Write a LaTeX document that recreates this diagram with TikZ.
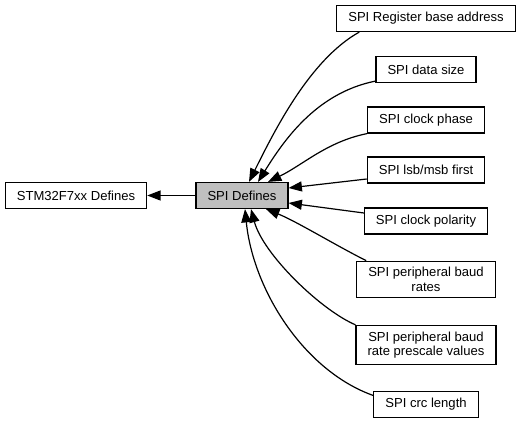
\documentclass[tikz,border=0pt]{standalone}
\usepackage{fontspec}
\setmainfont{Liberation Sans}
\usetikzlibrary{positioning, calc, arrows.meta}
\definecolor{grey75}{RGB}{191,191,191}

\begin{document}
\begin{tikzpicture}[
    x=0.75pt, y=-0.75pt,
    grpblock/.style = {rectangle, draw=black, line width=0.9pt, fill=white,
                       font=\fontsize{9.8}{11}\selectfont, align=center,
                       inner xsep=8.6pt, inner ysep=4.6pt, minimum height=19.5pt},
    curblock/.style = {grpblock, fill=grey75},
    conn/.style     = {line width=0.9pt, draw=black,
                       -{Triangle[length=10pt, width=7.5pt]}},
]

\useasboundingbox (0,0) rectangle (521,423);

%% ============================================================
%% COORDINATES
%% ============================================================
\def\xTop{76}
\def\xCur{242}
\def\xSub{426}

\def\yMain{195.5}
\def\yReg{18.5}
\def\yData{69.5}
\def\yPhase{120}
\def\yLsb{170}
\def\yPol{221}
\def\yBaud{279.5}
\def\yPresc{345}
\def\yCrc{404.5}

%% ============================================================
%% NODES
%% ============================================================
\node[grpblock] (stm)   at (\xTop, \yMain)  {STM32F7xx Defines};
\node[curblock] (spi)   at (\xCur, \yMain)  {SPI Defines};

\node[grpblock] (reg)   at (\xSub, \yReg)   {SPI Register base address};
\node[grpblock] (data)  at (\xSub, \yData)  {SPI data size};
\node[grpblock] (phase) at (\xSub, \yPhase) {SPI clock phase};
\node[grpblock] (lsb)   at (\xSub, \yLsb)   {SPI lsb/msb first};
\node[grpblock] (pol)   at (\xSub, \yPol)   {SPI clock polarity};
\node[grpblock] (baud)  at (\xSub, \yBaud)  {SPI peripheral baud\\rates};
\node[grpblock] (presc) at (\xSub, \yPresc) {SPI peripheral baud\\ rate prescale values};
\node[grpblock] (crc)   at (\xSub, \yCrc)   {SPI crc length};

%% ============================================================
%% CONNECTIONS
%% ============================================================
\draw[conn] (spi) -- (stm);

\draw[conn] ($(reg.south west)+(23,0)$)
    .. controls +(-50,28) and +(25,-50) .. ($(spi.north)+(7,0)$);
\draw[conn] ($(data.south west)+(0,-2)$)
    .. controls +(-60,12) and +(25,-40) .. ($(spi.north)+(16,0)$);
\draw[conn] (phase.south west)
    .. controls +(-40,8) and +(35,-17) .. ($(spi.north)+(26,0)$);
\draw[conn] ($(lsb.west)+(0,9)$) -- ($(spi.east)+(0,-7.5)$);
\draw[conn] ($(pol.west)+(0,-8)$) -- ($(spi.east)+(0,7.5)$);
\draw[conn] ($(baud.north west)+(10,0)$)
    .. controls +(-30,-15) and +(30,12) .. ($(spi.south)+(24,0)$);
\draw[conn] (presc.north west)
    .. controls +(-35,-15) and +(12,45) .. ($(spi.south)+(9,0)$);
\draw[conn] ($(crc.west)+(0,-9)$)
    .. controls +(-70,-25) and +(8,80) .. ($(spi.south)+(3,0)$);

\end{tikzpicture}
\end{document}
